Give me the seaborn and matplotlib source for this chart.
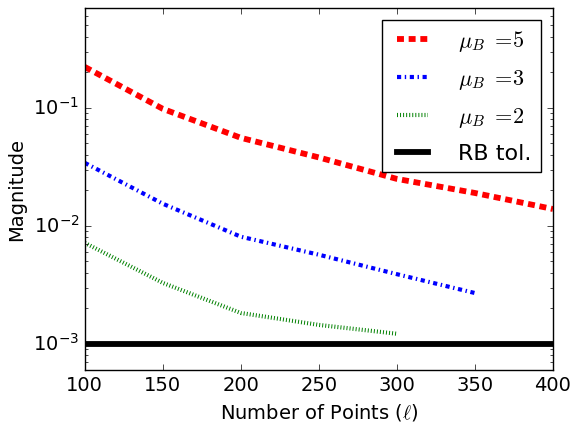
import matplotlib
matplotlib.use("Agg")
import matplotlib.pyplot as plt
import seaborn as sns
import pandas as pd

# data (x = number of points, y = magnitude)
points_5 = [100, 150, 200, 250, 300, 350, 400]
mag_5 = [0.222, 0.098, 0.0557, 0.038, 0.025, 0.019, 0.0139]

points_3 = [100, 150, 200, 250, 300, 350]
mag_3 = [0.0342, 0.0154, 0.0081, 0.0057, 0.0039, 0.0027]

points_2 = [100, 150, 200, 250, 300]
mag_2 = [0.00718, 0.00329, 0.00183, 0.00145, 0.00122]

rb_tol = 1e-3
rb_x = [100, 400]

labels = [r'$\mu_B\ =\!5$', r'$\mu_B\ =\!3$', r'$\mu_B\ =\!2$', 'RB tol.']

plt.style.use('classic')
plt.rcParams['figure.facecolor'] = 'white'
plt.rcParams['savefig.facecolor'] = 'white'
plt.rcParams['mathtext.fontset'] = 'cm'
plt.rcParams['font.family'] = ['DejaVu Sans']
plt.rcParams['lines.scale_dashes'] = False

fig = plt.figure(figsize=(5.73, 4.24), dpi=100)
ax = fig.add_axes([0.148, 0.127, 0.817, 0.854])

series = [
    (points_5, mag_5, 'red', 4.2, (5, 3.4)),
    (points_3, mag_3, 'blue', 3.0, (3, 2.6, 1, 2.6)),
    (points_2, mag_2, 'green', 3.0, (0.7, 1.5)),
]
for (xs, ys, col, lw, dash), lab in zip(series, labels[:3]):
    df = pd.DataFrame({'x': xs, 'y': ys})
    sns.lineplot(data=df, x='x', y='y', color=col, lw=lw, label=lab, ax=ax)
    ax.lines[-1].set_dashes(dash)

df_tol = pd.DataFrame({'x': rb_x, 'y': [rb_tol, rb_tol]})
sns.lineplot(data=df_tol, x='x', y='y', color='black', lw=4.2, label=labels[3], ax=ax)

ax.set_yscale('log')
ax.set_xlim(100, 400)
ax.set_ylim(6e-4, 0.7)
ax.set_xticks([100, 150, 200, 250, 300, 350, 400])
ax.tick_params(labelsize=14)
ax.set_xlabel(r'Number of Points ($\ell$)', fontsize=14)
ax.set_ylabel('Magnitude', fontsize=14)

leg = ax.legend(loc='upper right', fontsize=16, handlelength=2.0, handletextpad=1.05,
                labelspacing=0.62, borderaxespad=0.55, frameon=True, fancybox=False)
leg.get_frame().set_edgecolor('black')

fig.savefig('out.png', dpi=100)
